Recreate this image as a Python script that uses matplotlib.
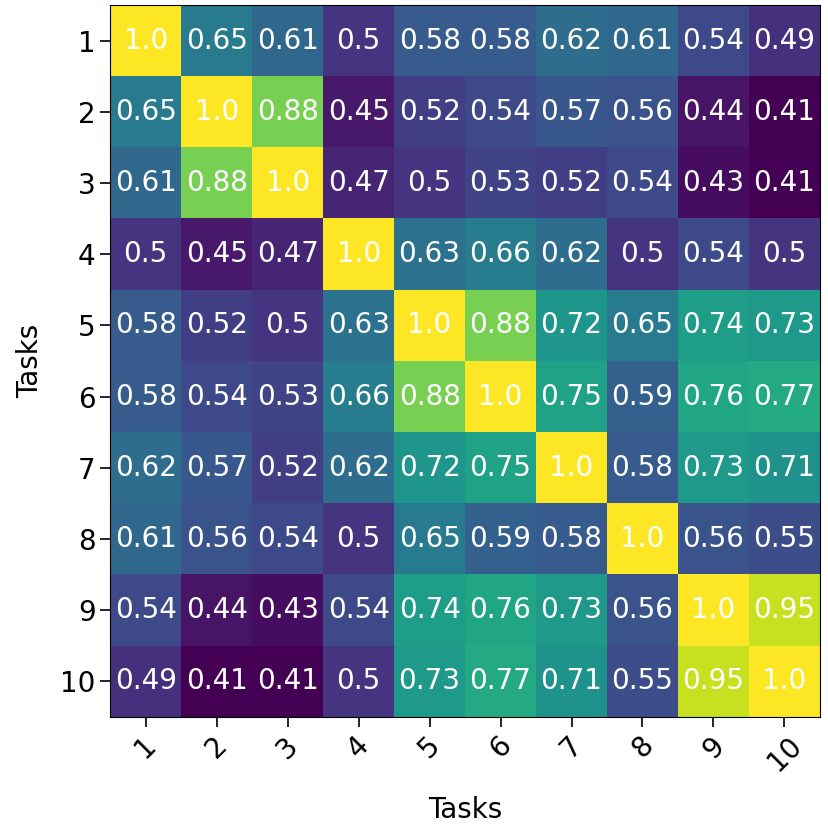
import numpy as np
import matplotlib
matplotlib.use("Agg")
import matplotlib.pyplot as plt

tasks = ["1", "2", "3", "4", "5", "6", "7", "8", "9", "10"]

row_1 = [1.0, 0.65, 0.61, 0.5, 0.58, 0.58, 0.62, 0.61, 0.54, 0.49]
row_2 = [0.65, 1.0, 0.88, 0.45, 0.52, 0.54, 0.57, 0.56, 0.44, 0.41]
row_3 = [0.61, 0.88, 1.0, 0.47, 0.5, 0.53, 0.52, 0.54, 0.43, 0.41]
row_4 = [0.5, 0.45, 0.47, 1.0, 0.63, 0.66, 0.62, 0.5, 0.54, 0.5]
row_5 = [0.58, 0.52, 0.5, 0.63, 1.0, 0.88, 0.72, 0.65, 0.74, 0.73]
row_6 = [0.58, 0.54, 0.53, 0.66, 0.88, 1.0, 0.75, 0.59, 0.76, 0.77]
row_7 = [0.62, 0.57, 0.52, 0.62, 0.72, 0.75, 1.0, 0.58, 0.73, 0.71]
row_8 = [0.61, 0.56, 0.54, 0.5, 0.65, 0.59, 0.58, 1.0, 0.56, 0.55]
row_9 = [0.54, 0.44, 0.43, 0.54, 0.74, 0.76, 0.73, 0.56, 1.0, 0.95]
row_10 = [0.49, 0.41, 0.41, 0.5, 0.73, 0.77, 0.71, 0.55, 0.95, 1.0]

sim = np.array([row_1, row_2, row_3, row_4, row_5,
                row_6, row_7, row_8, row_9, row_10])

fig = plt.figure(figsize=(8.29, 8.24), dpi=100)
ax = fig.add_axes([0.133, 0.130, 0.856, 0.864])
ax.imshow(sim, cmap="viridis", aspect="auto")

ax.set_xticks(np.arange(len(tasks)))
ax.set_yticks(np.arange(len(tasks)))
ax.set_xticklabels(tasks, rotation=45, fontsize=20)
ax.set_yticklabels(tasks, fontsize=20)
ax.tick_params(length=7, width=1.2)

for i in range(len(tasks)):
    for j in range(len(tasks)):
        ax.text(j, i, str(sim[i, j]), ha="center", va="center",
                color="w", fontsize=20)

ax.set_xlabel("Tasks", fontsize=20, labelpad=14)
ax.set_ylabel("Tasks", fontsize=20, labelpad=12)

plt.savefig("out.png", dpi=100)
